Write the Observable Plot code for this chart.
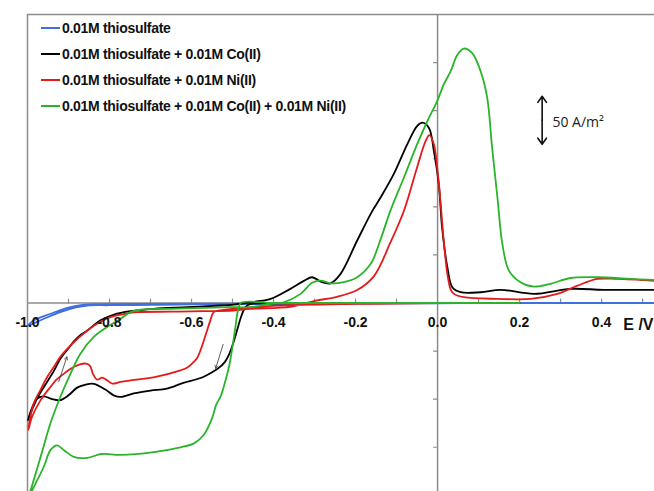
<!DOCTYPE html>
<html><head><meta charset="utf-8">
<script src="https://cdn.jsdelivr.net/npm/d3@7"></script>
<script src="https://cdn.jsdelivr.net/npm/@observablehq/plot@0.6"></script>
<style>
body{margin:0;background:#fff;}
#wrap{position:relative;width:654px;height:491px;overflow:hidden;}
#legend{position:absolute;left:41px;top:15px;font-family:"Liberation Sans",Arial,sans-serif;font-weight:bold;font-size:14px;letter-spacing:-0.3px;color:#111;}
.row{height:26px;display:flex;align-items:center;white-space:nowrap;}
.sw{width:19px;height:0;border-top:2px solid;margin-right:2px;}
</style></head><body><div id="wrap"></div>
<script>
// ---- data (E in V, current density in A/m2) ----
const seriesNames = ["0.01M thiosulfate","0.01M thiosulfate + 0.01M Co(II)","0.01M thiosulfate + 0.01M Ni(II)","0.01M thiosulfate + 0.01M Co(II) + 0.01M Ni(II)"];
const seriesColors = ["#3f6fe0","#000000","#e41b1b","#2ab42a"];

const blueE = [0.529,0.2,0.0,-0.2,-0.4,-0.6,-0.7,-0.8,-0.854,-0.879,-0.92,-0.96,-0.998,-0.985,-0.944,-0.903,-0.866,-0.82,-0.7,-0.5,-0.3,0.0,0.529];
const blueI = [0,0,-0.3,-0.6,-1,-1.5,-2,-2.3,-2.6,-4.4,-9.5,-16.4,-23.3,-18,-11.2,-5,-1.9,-1.2,-1,-0.6,-0.3,0,0];

const blackE = [0.2,0.0,-0.2,-0.4,-0.455,-0.468,-0.478,-0.488,-0.497,-0.507,-0.52,-0.535,-0.55,-0.578,-0.62,-0.66,-0.70,-0.741,-0.773,-0.79,-0.81,-0.838,-0.86,-0.879,-0.9,-0.92,-0.94,-0.96,-0.975,-0.988,-0.999,
  -0.99,-0.975,-0.955,-0.935,-0.92,-0.9,-0.887,-0.87,-0.854,-0.822,-0.789,-0.749,-0.692,-0.61,-0.529,-0.497,-0.456,-0.407,-0.359,-0.326,-0.306,-0.282,-0.261,-0.237,-0.196,-0.16,-0.139,-0.107,-0.074,-0.05,-0.037,-0.021,-0.009,0.003,0.011,0.024,0.036,0.056,0.105,0.154,0.235,0.324,0.405,0.529];
const blackI = [0,0,0,-0.5,-1,-4,-13,-27,-40,-52,-62,-68,-72,-78,-83,-89,-91,-94,-97.7,-96,-90,-84,-85,-88,-96,-101,-100,-97,-99,-108,-122,
  -112,-98,-84,-70,-58,-47,-40,-33,-28.5,-18,-12,-8.5,-6,-4.4,-2.6,-1.6,0.8,4.3,14.7,23,26.8,21.6,20.5,30,65,95,109.7,134,165,184,187.5,182,158,123.6,78.6,37,16.4,11.2,11.2,13.7,9.5,14.7,13.7,13.7];

const redE = [0.2,0.0,-0.2,-0.4,-0.5,-0.535,-0.546,-0.554,-0.562,-0.57,-0.578,-0.586,-0.594,-0.61,-0.627,-0.69,-0.74,-0.773,-0.793,-0.806,-0.818,-0.83,-0.84,-0.848,-0.858,-0.87,-0.885,-0.9,-0.911,-0.93,-0.944,-0.968,-0.989,-0.998,
  -0.985,-0.968,-0.952,-0.935,-0.92,-0.895,-0.854,-0.82,-0.798,-0.76,-0.732,-0.65,-0.57,-0.498,-0.456,-0.359,-0.302,-0.245,-0.196,-0.155,-0.115,-0.082,-0.05,-0.029,-0.02,-0.009,-0.001,0.007,0.015,0.024,0.032,0.04,0.064,0.146,0.227,0.292,0.341,0.39,0.438,0.529];
const redI = [0,0,-1,-3,-6,-8,-9.5,-18,-28.5,-39,-49,-57,-61,-67,-70,-77,-80,-82,-83.8,-80.4,-77.6,-79.7,-74,-65,-63,-63.5,-66,-70,-73.4,-80,-87.3,-101,-118.5,-132,
  -104.6,-90,-77,-66,-56,-44,-28.5,-19,-14.7,-11,-9.5,-9,-8.5,-7.8,-6,-4,2,6.5,13.5,28,63,96,141,168.5,174.5,165,141,106,65,30,14,9.5,6,4.3,4.3,9.5,18,25,25,23];

const greenE = [0.2,0.0,-0.2,-0.4,-0.48,-0.487,-0.493,-0.5,-0.508,-0.518,-0.529,-0.54,-0.55,-0.57,-0.594,-0.627,-0.692,-0.773,-0.82,-0.854,-0.887,-0.911,-0.928,-0.944,-0.96,-0.976,-0.989,-1.0,
  -0.989,-0.968,-0.944,-0.92,-0.895,-0.871,-0.839,-0.806,-0.773,-0.749,-0.724,-0.651,-0.57,-0.513,-0.456,-0.407,-0.375,-0.334,-0.306,-0.285,-0.261,-0.229,-0.196,-0.163,-0.14,-0.115,-0.082,-0.05,-0.025,-0.001,0.016,0.032,0.048,0.064,0.084,0.105,0.121,0.133,0.146,0.158,0.174,0.202,0.235,0.276,0.324,0.39,0.471,0.529];
const greenI = [0,0,0,0,0,-8,-25,-45,-65,-82,-97,-106,-120,-137,-146,-150,-155,-158,-157,-161,-160,-153,-148,-153,-170,-184,-195,-205,
  -190,-160,-125,-97.7,-73.4,-52.7,-35.5,-25,-16.4,-9.5,-7,-6,-5,-4.3,-4.3,-0.8,0.8,9.5,21,23.3,20.5,21.6,26.8,40.7,64.8,96,130.5,165,189,210,228,241,258,264.6,260,241,213.5,161.6,109.7,61.4,33.7,21.6,17,20,26,26.8,25,24];

// axis ticks and labels
const xTickValues = [-1.0,-0.8,-0.6,-0.4,-0.2,0.0,0.2,0.4];
const xTickLabels = ["-1.0","-0.8","-0.6","-0.4","-0.2","0.0","0.2","0.4"];
const xMinorTicks = [-0.9,-0.8,-0.7,-0.6,-0.5,-0.4,-0.3,-0.2,-0.1,0.1,0.2,0.3,0.4,0.5];
const yTicks = [-150,-100,-50,50,100,150,200,250];
const xAxisTitle = "E /V";

// scan-direction arrows (E,I start -> end)
const dirE1 = [-0.924,-0.523], dirI1 = [-82,-43], dirE2 = [-0.904,-0.541], dirI2 = [-56,-68];
// scale bar: 50 A/m2, drawn from its middle out to both ends
const scaleE = [0.255, 0.255], scaleMid = [190, 190], scaleEnd = [215, 165];
const scaleLabel = ["50 A/m\u00B2"], scaleLabelE = [0.28], scaleLabelI = [188];

const mk = (E, I) => E.map((e, i) => ({E: e, I: I[i]}));
const curves = [mk(blueE, blueI), mk(blackE, blackI), mk(redE, redI), mk(greenE, greenI)];
const grey = "#8c8c8c";
const font = "Liberation Sans, Arial, sans-serif";

const chart = Plot.plot({
  width: 654, height: 491,
  marginLeft: 27, marginRight: 0, marginTop: 14, marginBottom: 0,
  x: {domain: [-1.0, 0.529], axis: null},
  y: {domain: [-196, 300], axis: null},
  style: {background: "white"},
  marks: [
    Plot.ruleY([300], {stroke: grey, strokeWidth: 1.5}),
    Plot.ruleX([-1.0], {stroke: grey, strokeWidth: 1.5}),
    Plot.ruleY([0], {stroke: grey, strokeWidth: 1.5}),
    Plot.ruleX([0], {stroke: grey, strokeWidth: 1.5}),
    Plot.vector(xMinorTicks, {x: d => d, y: 0, length: 4, rotate: 0, anchor: "start", r: 0, stroke: grey, strokeWidth: 1.2}),
    Plot.vector(yTicks, {x: 0, y: d => d, length: 4, rotate: -90, anchor: "start", r: 0, stroke: grey, strokeWidth: 1.2}),
    ...curves.map((c, k) => Plot.line(c, {x: "E", y: "I", stroke: seriesColors[k], strokeWidth: 1.8, curve: "catmull-rom", clip: true})),
    Plot.arrow(dirE1.map((_, i) => i), {x1: i => dirE1[i], y1: i => dirI1[i], x2: i => dirE2[i], y2: i => dirI2[i], stroke: "#333", strokeWidth: 0.8, headLength: 6}),
    Plot.arrow(scaleE.map((_, i) => i), {x1: i => scaleE[i], y1: i => scaleMid[i], x2: i => scaleE[i], y2: i => scaleEnd[i], stroke: "#111", strokeWidth: 1.6, headLength: 7, headAngle: 70}),
    Plot.text(scaleLabel, {x: (d, i) => scaleLabelE[i], y: (d, i) => scaleLabelI[i], text: d => d, textAnchor: "start", fontSize: 14, fontFamily: "Open Sans, sans-serif", fill: "#222"}),
    Plot.text(xTickValues, {x: d => d, y: 0, text: (d, i) => xTickLabels[i], dy: 20, fontSize: 14, fontWeight: "bold", fontFamily: font, fill: "#111"}),
    Plot.text([xAxisTitle], {x: 0.529, y: 0, text: d => d, dy: 22, dx: -1, textAnchor: "end", fontSize: 16, fontWeight: "bold", fontFamily: font, fill: "#111"})
  ]
});

const wrap = document.getElementById("wrap");
wrap.appendChild(chart);
const legend = document.createElement("div");
legend.id = "legend";
seriesNames.forEach((n, k) => {
  const row = document.createElement("div");
  row.className = "row";
  const sw = document.createElement("span");
  sw.className = "sw";
  sw.style.borderTopColor = seriesColors[k];
  const t = document.createElement("span");
  t.textContent = n;
  row.appendChild(sw); row.appendChild(t);
  legend.appendChild(row);
});
wrap.appendChild(legend);
</script>
</body></html>
